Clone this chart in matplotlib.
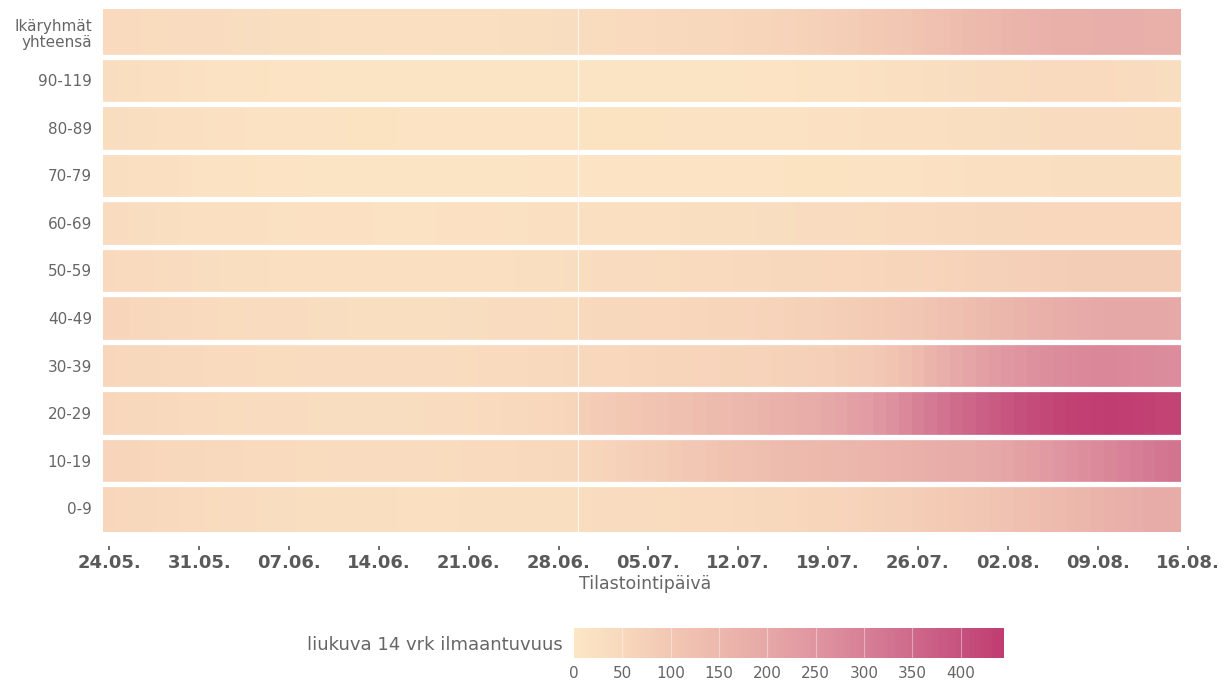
import numpy as np
import matplotlib
matplotlib.use("Agg")
import matplotlib.pyplot as plt
from matplotlib.colors import LinearSegmentedColormap

# Date labels for the x axis (one per week), cells are daily 24.05. - 15.08.
tick_labels = ['24.05.', '31.05.', '07.06.', '14.06.', '21.06.', '28.06.', '05.07.',
               '12.07.', '19.07.', '26.07.', '02.08.', '09.08.', '16.08.']

# Age groups, bottom row first
age_groups = ['0-9', '10-19', '20-29', '30-39', '40-49', '50-59', '60-69',
              '70-79', '80-89', '90-119', 'Ikäryhmät\nyhteensä']

# 14 day rolling incidence per age group (84 days)
v_0_9 = [56, 54, 52, 50, 48, 46, 44, 42, 40, 38, 36, 35, 34, 33, 32, 31, 30, 30, 29, 29, 28,
         28, 28, 27, 27, 27, 27, 27, 28, 28, 28, 29, 29, 30, 30, 31, 31, 34, 35, 36, 37, 38,
         39, 40, 41, 42, 43, 44, 45, 46, 48, 50, 52, 54, 56, 58, 60, 62, 65, 68, 71, 74, 78,
         82, 86, 90, 95, 100, 105, 111, 117, 123, 130, 137, 144, 151, 158, 165, 171, 177, 182, 186, 189, 191]
v_10_19 = [62, 60, 58, 56, 54, 52, 50, 49, 48, 47, 46, 45, 44, 43, 42, 41, 40, 40, 39, 39, 38,
           38, 38, 38, 38, 39, 40, 41, 42, 43, 44, 45, 46, 47, 48, 49, 50, 56, 60, 65, 70, 75,
           80, 85, 90, 96, 102, 108, 114, 120, 126, 132, 137, 141, 145, 148, 151, 154, 157, 160, 164, 168, 172,
           176, 180, 184, 188, 192, 197, 203, 210, 218, 227, 236, 246, 256, 266, 276, 286, 296, 305, 314, 322, 330]
v_20_29 = [56, 54, 52, 50, 48, 46, 44, 43, 42, 41, 40, 39, 38, 37, 36, 35, 34, 33, 32, 32, 32,
           32, 32, 33, 34, 35, 36, 38, 40, 42, 44, 46, 48, 50, 53, 56, 60, 80, 86, 92, 98, 104,
           110, 116, 122, 128, 134, 140, 146, 152, 158, 164, 171, 178, 185, 192, 200, 210, 220, 232, 246, 262, 280,
           298, 314, 330, 345, 358, 370, 382, 393, 403, 412, 420, 428, 434, 438, 441, 442, 440, 437, 434, 431, 428]
v_30_39 = [56, 54, 52, 50, 49, 48, 47, 46, 45, 44, 43, 42, 41, 40, 40, 39, 38, 37, 37, 36, 36,
           36, 36, 36, 37, 38, 39, 40, 41, 42, 43, 44, 45, 46, 47, 48, 49, 52, 53, 54, 55, 56,
           57, 58, 59, 60, 61, 62, 63, 64, 65, 66, 68, 70, 72, 75, 78, 82, 86, 92, 100, 112, 128,
           145, 162, 180, 196, 210, 222, 234, 244, 252, 260, 266, 272, 276, 280, 282, 282, 280, 278, 275, 272, 270]
v_40_49 = [62, 58, 55, 52, 50, 48, 46, 44, 42, 41, 40, 39, 38, 37, 36, 35, 34, 33, 32, 31, 30,
           30, 30, 30, 30, 30, 31, 32, 33, 34, 35, 36, 37, 38, 39, 40, 41, 48, 49, 50, 51, 52,
           53, 54, 55, 56, 57, 58, 59, 60, 62, 64, 66, 68, 70, 73, 76, 79, 82, 86, 90, 95, 100,
           106, 112, 119, 126, 134, 142, 150, 158, 165, 172, 179, 185, 190, 194, 197, 199, 200, 200, 200, 199, 198]
v_50_59 = [46, 45, 44, 42, 40, 38, 36, 34, 32, 31, 30, 29, 28, 27, 26, 25, 24, 23, 23, 22, 22,
           22, 22, 22, 22, 23, 23, 24, 24, 25, 26, 27, 28, 29, 30, 31, 32, 34, 35, 36, 37, 38,
           39, 40, 41, 42, 43, 44, 45, 46, 47, 48, 49, 50, 51, 52, 53, 54, 55, 56, 57, 58, 59,
           60, 62, 64, 66, 68, 70, 72, 74, 76, 78, 80, 81, 82, 83, 84, 85, 85, 85, 85, 84, 84]
v_60_69 = [36, 35, 34, 32, 30, 28, 27, 26, 25, 24, 23, 22, 21, 20, 20, 19, 19, 18, 18, 18, 18,
           17, 17, 17, 17, 17, 18, 18, 18, 19, 19, 20, 20, 21, 21, 22, 22, 24, 24, 25, 25, 26,
           26, 27, 27, 28, 28, 29, 30, 30, 31, 32, 33, 34, 35, 36, 37, 38, 39, 40, 41, 42, 43,
           44, 45, 46, 47, 48, 49, 50, 51, 52, 53, 53, 54, 54, 55, 55, 55, 55, 55, 55, 54, 54]
v_70_79 = [30, 29, 27, 25, 23, 21, 19, 17, 16, 15, 14, 13, 12, 12, 11, 11, 10, 10, 10, 10, 10,
           10, 10, 10, 10, 10, 10, 10, 10, 10, 10, 10, 10, 11, 11, 11, 11, 12, 12, 12, 12, 12,
           12, 12, 12, 12, 12, 12, 12, 12, 12, 12, 12, 13, 13, 13, 13, 13, 14, 14, 15, 15, 16,
           17, 18, 19, 20, 21, 22, 23, 24, 25, 26, 27, 28, 28, 29, 29, 30, 30, 30, 30, 30, 30]
v_80_89 = [34, 32, 30, 28, 26, 24, 22, 21, 20, 19, 18, 17, 16, 16, 15, 15, 14, 14, 14, 13, 13,
           13, 13, 12, 12, 12, 12, 12, 12, 12, 12, 12, 12, 12, 12, 12, 12, 13, 13, 13, 13, 13,
           13, 13, 14, 14, 14, 14, 15, 15, 15, 16, 16, 17, 17, 18, 18, 19, 20, 21, 22, 23, 24,
           25, 26, 27, 28, 29, 30, 31, 32, 33, 34, 35, 36, 37, 38, 38, 39, 39, 40, 40, 40, 40]
v_90_119 = [32, 30, 28, 26, 24, 22, 20, 18, 17, 16, 15, 14, 13, 12, 12, 11, 11, 10, 10, 10, 10,
            10, 10, 9, 9, 9, 9, 9, 9, 9, 9, 9, 10, 10, 10, 10, 10, 10, 10, 10, 9, 9,
            9, 9, 9, 9, 9, 10, 10, 10, 11, 11, 12, 12, 13, 14, 15, 16, 17, 18, 20, 22, 24,
            26, 28, 30, 32, 34, 36, 38, 40, 41, 42, 43, 44, 44, 44, 43, 42, 40, 38, 36, 34, 33]
v_total = [44, 43, 42, 41, 40, 39, 38, 37, 36, 35, 34, 33, 32, 31, 30, 29, 28, 27, 26, 26, 25,
           25, 24, 24, 24, 24, 25, 25, 26, 26, 27, 28, 29, 30, 31, 32, 33, 38, 40, 41, 42, 44,
           45, 46, 48, 49, 51, 52, 54, 56, 58, 60, 63, 66, 69, 72, 76, 80, 84, 89, 94, 100, 106,
           112, 119, 126, 133, 140, 147, 153, 159, 164, 168, 172, 175, 177, 179, 180, 181, 181, 180, 179, 178, 177]

values = np.array([v_0_9, v_10_19, v_20_29, v_30_39, v_40_49, v_50_59,
                   v_60_69, v_70_79, v_80_89, v_90_119, v_total], dtype=float)

# peach -> magenta scale
vmax = 445
stops = [0, 50, 100, 150, 200, 250, 300, 350, 400, 445]
stop_colors = ['#fce6c4', '#f8d8bd', '#f2c7b3', '#ecb8ac', '#e6a8a7',
               '#df95a0', '#d78097', '#ce6a8b', '#c6527e', '#c03c70']
cmap = LinearSegmentedColormap.from_list('peachmag', list(zip([s / vmax for s in stops], stop_colors)))

text_gray = '#666666'

fig = plt.figure(figsize=(12.23, 6.83), dpi=100)
ax = fig.add_axes([103 / 1223, 1 - 532 / 683, (1187.5 - 103) / 1223, 523 / 683])

n_rows, n_days = values.shape
x_edges = np.arange(n_days + 1) - 0.5
y_edges = np.arange(n_rows + 1) - 0.5
mesh = ax.pcolormesh(x_edges, y_edges, values, cmap=cmap, vmin=0, vmax=vmax, shading='flat')

# white gaps between rows and the thin white line at end of June
for i in range(n_rows - 1):
    ax.axhline(i + 0.5, color='white', lw=3.8)
ax.axvline(36.5, color='white', lw=0.8, alpha=0.8)

ax.set_xlim(-0.5, 84)
ax.set_ylim(-0.5, n_rows - 0.5)
for s in ax.spines.values():
    s.set_visible(False)
ax.spines['bottom'].set_position(('outward', 10))

ax.set_yticks(range(n_rows))
ax.set_yticklabels(age_groups, fontsize=11, color=text_gray, linespacing=1.05)
ax.tick_params(axis='y', length=0, pad=8)

ax.set_xticks(range(0, 85, 7))
ax.set_xticklabels(tick_labels, fontsize=13, fontweight='bold', color='#5a5a5a')
ax.tick_params(axis='x', length=3, width=1.2, color='#555555', pad=3)
ax.set_xlabel('Tilastointipäivä', fontsize=12.5, color=text_gray, labelpad=2)

# colour legend
cax = fig.add_axes([574 / 1223, 1 - 658 / 683, 430 / 1223, 30 / 683])
cb = fig.colorbar(mesh, cax=cax, orientation='horizontal')
cb.outline.set_visible(False)
cb.set_ticks(range(0, 401, 50))
cax.tick_params(length=0, labelsize=11, labelcolor=text_gray, pad=6)
for v in range(50, 401, 50):
    cax.axvline(v, color='white', lw=0.8, alpha=0.4)
fig.text(563 / 1223, 1 - 645 / 683, 'liukuva 14 vrk ilmaantuvuus', ha='right', va='center',
         fontsize=13, color=text_gray)

plt.savefig('out.png', dpi=100)
